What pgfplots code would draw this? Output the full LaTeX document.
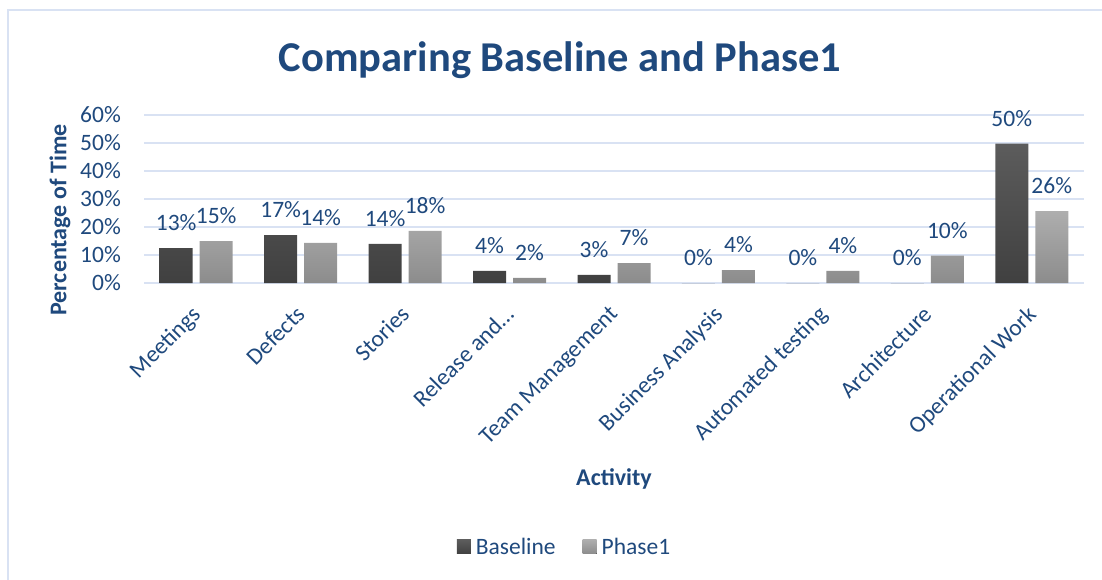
\documentclass[border=0pt]{standalone}
\usepackage{pgfplots}
\pgfplotsset{compat=1.18}
\usepackage{fontspec}
\setmainfont{Carlito}
\definecolor{txt}{HTML}{1F497D}
\definecolor{grd}{HTML}{D9E2F3}
\definecolor{bA}{HTML}{5C5C5C}
\definecolor{bB}{HTML}{404040}
\definecolor{pA}{HTML}{AEAEAE}
\definecolor{pB}{HTML}{8C8C8C}
\begin{document}
\begin{tikzpicture}
\path[use as bounding box] (0pt,0pt) rectangle (1102pt,-580pt);
\draw[grd, line width=1.5pt] (8pt,-580pt) -- (8pt,-10pt) -- (1102pt,-10pt);
\node[txt, anchor=base, font=\fontsize{42.5}{50}\selectfont\bfseries] at (560pt,-72pt) {Comparing Baseline and Phase1};
\begin{axis}[
  at={(144pt,-283pt)}, anchor=south west,
  scale only axis, width=940pt, height=168pt,
  ymin=0, ymax=60, xmin=-0.5, xmax=8.5,
  ybar=7pt, bar width=33pt,
  ytick={0,10,...,60},
  yticklabels={0\%,10\%,20\%,30\%,40\%,50\%,60\%},
  xtick={0,...,8},
  xticklabels={Meetings,Defects,Stories,Release and\dots,Team Management,Business Analysis,Automated testing,Architecture,Operational Work},
  axis line style={draw=none}, tick style={draw=none},
  ymajorgrids, major grid style={grd, line width=1.5pt},
  yticklabel style={anchor=east, inner sep=0pt, xshift=-23pt, font=\fontsize{23.5}{28}\selectfont, text=txt},
  xticklabel style={xshift=-6pt, yshift=-17pt, rotate=45, anchor=north east, inner sep=0pt, font=\fontsize{23.5}{28}\selectfont, text=txt},
  ylabel={Percentage of Time},
  ylabel style={at={(axis description cs:-0.0894,0.375)}, anchor=center, rotate=0, font=\fontsize{24}{28}\selectfont\bfseries, text=txt},
  xlabel={Activity},
  xlabel style={at={(axis description cs:0.5,-1.2024)}, anchor=base, font=\fontsize{24}{28}\selectfont\bfseries, text=txt},
  point meta=explicit symbolic,
  nodes near coords,
  every node near coord/.append style={anchor=base, inner sep=0pt, yshift=17.5pt, font=\fontsize{23.5}{28}\selectfont, text=txt},
  legend style={at={(axis description cs:0.449,-1.571)}, anchor=center, draw=none, fill=none,
    font=\fontsize{23.5}{28}\selectfont, text=txt, legend columns=2,
    /tikz/every even column/.append style={column sep=22pt},
    nodes={inner xsep=5pt}},
  legend image code/.code={\fill[#1] (0pt,-7pt) rectangle (14pt,7pt);},
]
\addplot[draw=none, top color=bA, bottom color=bB] coordinates {
  (0,12.5) [13\%] (1,17.1) [17\%] (2,14) [14\%] (3,4.3) [4\%] (4,2.9) [3\%]
  (5,0) [0\%] (6,0) [0\%] (7,0) [0\%] (8,49.8) [50\%]
};
\addplot[draw=none, top color=pA, bottom color=pB] coordinates {
  (0,15) [15\%] (1,14.3) [14\%] (2,18.6) [18\%] (3,1.8) [2\%] (4,7.1) [7\%]
  (5,4.6) [4\%] (6,4.3) [4\%] (7,9.8) [10\%] (8,25.7) [26\%]
};
\legend{Baseline,Phase1}
\end{axis}
\end{tikzpicture}
\end{document}
